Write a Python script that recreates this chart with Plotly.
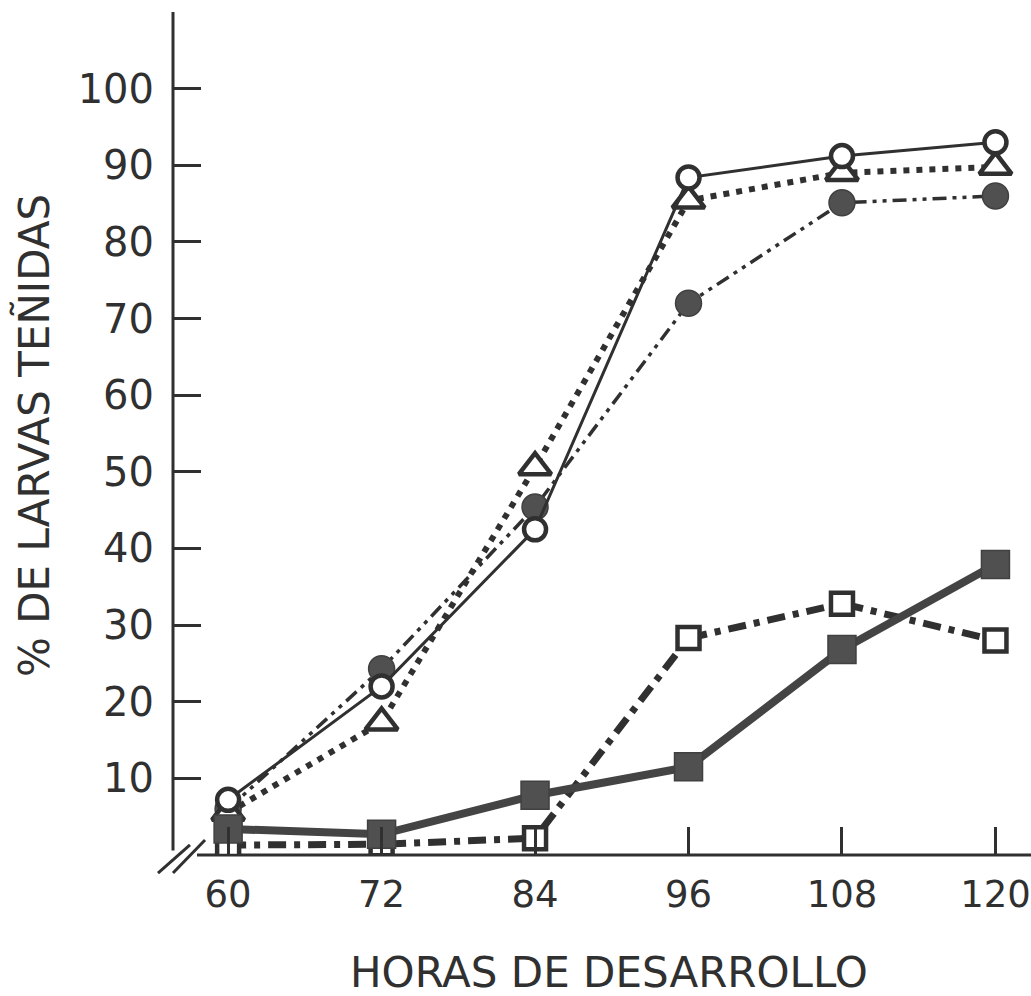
import plotly.graph_objects as go

# Hours of development (x) and percentage of stained larvae (y) per series
horas = [60, 72, 84, 96, 108, 120]
circulo_abierto = [7.2, 22.0, 42.5, 88.4, 91.2, 93.0]
triangulo_abierto = [5.5, 17.3, 50.6, 85.4, 89.0, 89.8]
circulo_lleno = [6.0, 24.3, 45.4, 72.0, 85.1, 86.0]
cuadrado_abierto = [1.3, 1.4, 2.2, 28.3, 32.8, 28.0]
cuadrado_lleno = [3.4, 2.7, 7.8, 11.5, 26.8, 37.9]

y_ticks = [10, 20, 30, 40, 50, 60, 70, 80, 90, 100]
y_tick_labels = ["10", "20", "30", "40", "50", "60", "70", "80", "90", "100"]
x_ticks = horas
x_tick_labels = ["60", "72", "84", "96", "108", "120"]

INK = "#303030"
GRIS = "#505050"
FONT = "DejaVu Sans"

fig = go.Figure()

# filled circles, dash-dot-dot line
fig.add_trace(go.Scatter(
    x=horas, y=circulo_lleno, mode="lines+markers",
    line=dict(color=INK, width=3.5, dash="14px,6px,4px,6px,4px,6px"),
    marker=dict(symbol="circle", size=26, color=GRIS,
                line=dict(color="#404040", width=1.5)),
))
# open squares, heavy dash-dot line
fig.add_trace(go.Scatter(
    x=horas, y=cuadrado_abierto, mode="lines+markers",
    line=dict(color=INK, width=7, dash="18px,8px,6px,8px"),
    marker=dict(symbol="square", size=22, color="white",
                line=dict(color=INK, width=4.5)),
))
# open triangles, heavy dotted line
fig.add_trace(go.Scatter(
    x=horas, y=triangulo_abierto, mode="lines+markers",
    line=dict(color=INK, width=6, dash="6px,7px"),
    marker=dict(symbol="triangle-up", size=28, color="white",
                line=dict(color=INK, width=4.5)),
))
# open circles, thin solid line
fig.add_trace(go.Scatter(
    x=horas, y=circulo_abierto, mode="lines+markers",
    line=dict(color=INK, width=3),
    marker=dict(symbol="circle", size=22, color="white",
                line=dict(color=INK, width=4.5)),
))
# filled squares, thick solid line
fig.add_trace(go.Scatter(
    x=horas, y=cuadrado_lleno, mode="lines+markers",
    line=dict(color="#444444", width=8),
    marker=dict(symbol="square", size=28, color=GRIS,
                line=dict(color="#404040", width=1.5)),
))

shapes = [
    # vertical axis line (stops short of the origin)
    dict(type="line", xref="paper", yref="y", x0=0, x1=0, y0=0.6, y1=110,
         line=dict(color=INK, width=3), layer="below"),
    # horizontal axis line (starts after the break)
    dict(type="line", xref="paper", yref="paper", x0=0.028, x1=1, y0=0, y1=0,
         line=dict(color=INK, width=3), layer="below"),
    # axis break marks
    dict(type="line", xref="paper", yref="paper", x0=-0.0175, y0=-0.0214,
         x1=0.0198, y1=0.0119, line=dict(color=INK, width=3)),
    dict(type="line", xref="paper", yref="paper", x0=0.0, y0=-0.0214,
         x1=0.0373, y1=0.0178, line=dict(color=INK, width=3)),
]

annotations = [
    dict(text="HORAS DE DESARROLLO", xref="paper", yref="paper",
         x=0.508, y=-0.1388, xanchor="center", yanchor="middle",
         showarrow=False, font=dict(family=FONT, size=42, color=INK)),
    dict(text="% DE LARVAS TEÑIDAS", xref="paper", yref="paper",
         x=-0.162, y=0.497, xanchor="center", yanchor="middle",
         textangle=-90, showarrow=False,
         font=dict(family=FONT, size=42, color=INK)),
]

fig.update_layout(
    width=1031, height=996,
    margin=dict(l=173, r=0, t=12, b=141, pad=0),
    plot_bgcolor="white", paper_bgcolor="white",
    showlegend=False,
    shapes=shapes,
    annotations=annotations,
    xaxis=dict(
        range=[55.69, 122.78], showgrid=False, zeroline=False, showline=False,
        tickmode="array", tickvals=x_ticks, ticktext=x_tick_labels,
        ticks="inside", ticklen=28, tickwidth=3, tickcolor=INK,
        ticklabelstandoff=14, ticklabeloverflow="allow",
        tickfont=dict(family=FONT, size=37, color=INK),
    ),
    yaxis=dict(
        range=[0, 110], showgrid=False, zeroline=False, showline=False,
        tickmode="array", tickvals=y_ticks, ticktext=y_tick_labels,
        ticks="inside", ticklen=28, tickwidth=3, tickcolor=INK,
        ticklabelstandoff=18,
        tickfont=dict(family=FONT, size=40, color=INK),
    ),
)

fig.write_html("out.html")
